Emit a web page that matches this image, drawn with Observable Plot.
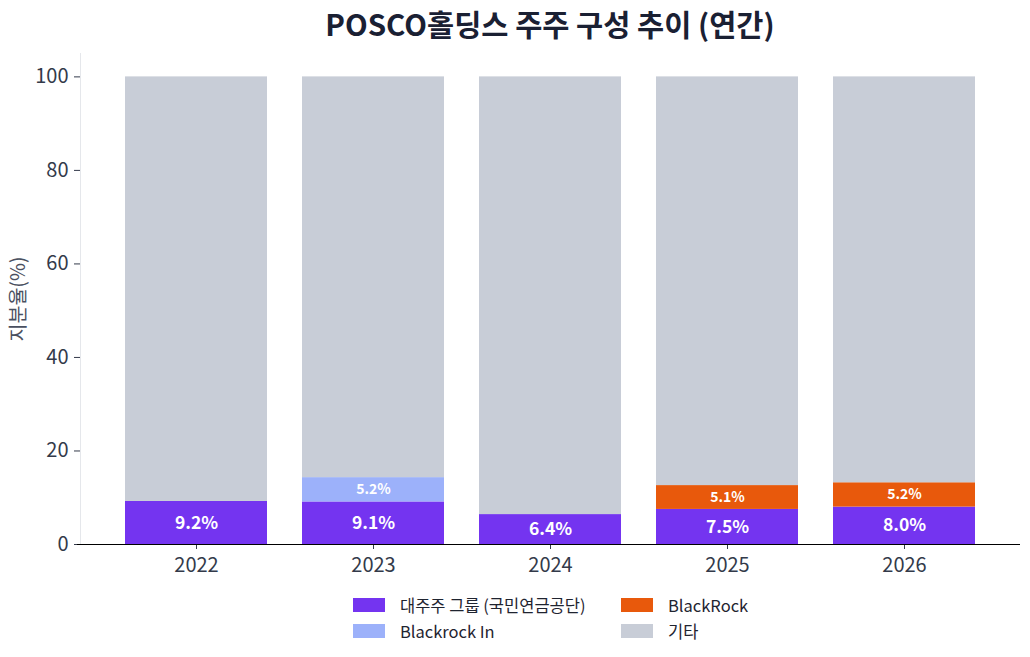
<!DOCTYPE html>
<html>
<head>
<meta charset="utf-8">
<script src="https://cdn.jsdelivr.net/npm/d3@7"></script>
<script src="https://cdn.jsdelivr.net/npm/@observablehq/plot@0.6"></script>
<style>
  body { margin: 0; background: #fff; font-family: "Noto Sans CJK KR", "Noto Sans", sans-serif; }
  #wrap { width: 1030px; }
  #title { height: 46px; line-height: 46px; text-align: center; font-size: 29.5px; font-weight: 700; color: #1a2033; padding-left: 70px; box-sizing: border-box; margin-bottom: 2px; }
  #legend { display: grid; grid-template-columns: 268px 200px; row-gap: 6px; margin-left: 353px; margin-top: 7px; font-size: 16.5px; color: #1f2430; }
  .item { display: flex; align-items: center; height: 20px; }
  .sw { width: 32px; height: 14px; margin-right: 15px; }
</style>
</head>
<body>
<div id="wrap">
  <div id="title">POSCO홀딩스 주주 구성 추이 (연간)</div>
  <div id="chart"></div>
  <div id="legend"></div>
</div>
<script>
const years = ["2022", "2023", "2024", "2025", "2026"];
const seriesNames = ["대주주 그룹 (국민연금공단)", "Blackrock In", "BlackRock", "기타"];
const seriesColors = ["#7434f0", "#9cb1fa", "#e8590c", "#c8cdd7"];
const majorGroup = [9.2, 9.1, 6.4, 7.5, 8.0];
const blackrockIn = [0, 5.2, 0, 0, 0];
const blackRock = [0, 0, 0, 5.1, 5.2];
const others = [90.8, 85.7, 93.6, 87.4, 86.8];
const yTicks = [0, 20, 40, 60, 80, 100];

const seriesValues = [majorGroup, blackrockIn, blackRock, others];
const rows = [];
years.forEach((yr, i) => {
  seriesNames.forEach((s, j) => {
    rows.push({year: yr, series: s, value: seriesValues[j][i], idx: j});
  });
});
const labelRows = rows.filter(d => d.idx < 3 && d.value > 0);

const chart = Plot.plot({
  width: 1030,
  height: 540,
  marginTop: 5,
  marginLeft: 80,
  marginRight: 10,
  marginBottom: 44,
  style: {fontFamily: '"Noto Sans CJK KR", "Noto Sans", sans-serif', background: "#fff"},
  x: {domain: years, paddingInner: 0.2, paddingOuter: 0.244, label: null},
  y: {domain: [0, 105], ticks: yTicks, label: null},
  color: {domain: seriesNames, range: seriesColors},
  marks: [
    Plot.frame({anchor: "left", stroke: "#e5e7eb"}),
    Plot.barY(rows, Plot.stackY({x: "year", y: "value", fill: "series", order: seriesNames})),
    Plot.text(labelRows.filter(d => d.idx === 0), Plot.stackY({
      x: "year", y: "value", z: "series", order: seriesNames,
      text: d => d.value.toFixed(1) + "%", fill: "white", fontSize: 17.5, fontWeight: 700
    })),
    Plot.text(labelRows.filter(d => d.idx > 0).map(d => ({...d, base: majorGroup[years.indexOf(d.year)]})), {
      x: "year", y: d => d.base + d.value / 2,
      text: d => d.value.toFixed(1) + "%", fill: "white", fontSize: 14, fontWeight: 700
    }),
    Plot.axisY({ticks: yTicks, fontSize: 20, tickSize: 6, tickPadding: 6, color: "#333a4a", label: null}),
    Plot.axisX({fontSize: 20, tickSize: 5, tickPadding: 8, color: "#333a4a", label: null}),
    Plot.text(["지분율(%)"], {frameAnchor: "left", textAnchor: "middle", dx: -62, rotate: -90, fontSize: 19.5, fill: "#4a5060"}),
    Plot.ruleY([0], {stroke: "#000", strokeWidth: 1.2, insetLeft: -3})
  ]
});
document.getElementById("chart").appendChild(chart);

const legend = document.getElementById("legend");
const order = [0, 2, 1, 3];
order.forEach(j => {
  const it = document.createElement("div");
  it.className = "item";
  it.innerHTML = `<span class="sw" style="background:${seriesColors[j]}"></span><span>${seriesNames[j]}</span>`;
  legend.appendChild(it);
});
</script>
</body>
</html>
